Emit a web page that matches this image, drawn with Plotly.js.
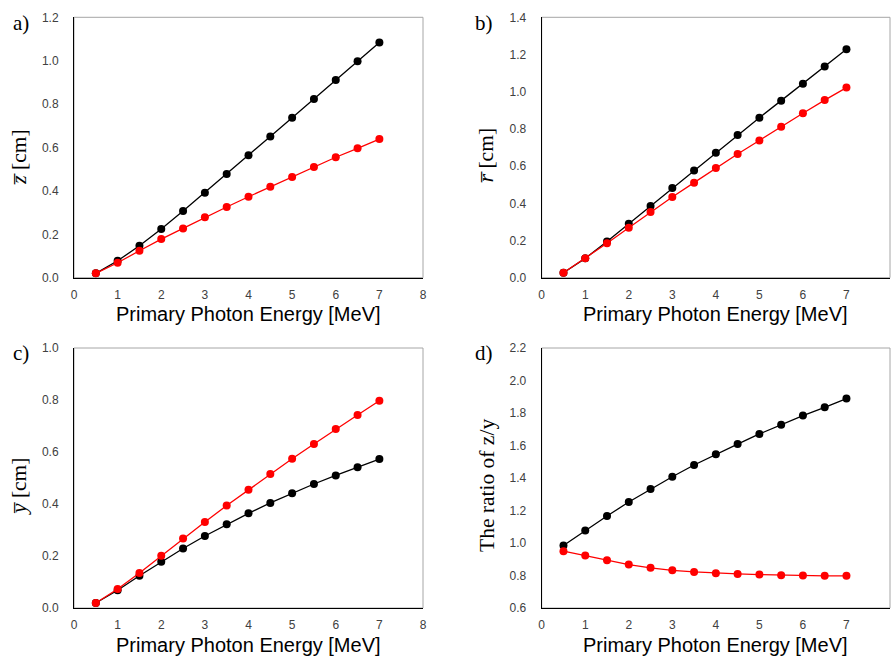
<!DOCTYPE html>
<html>
<head>
<meta charset="utf-8">
<script src="https://cdn.plot.ly/plotly-3.0.1.min.js"></script>
<style>html,body{margin:0;padding:0;background:#fff}#chart{width:893px;height:658px}</style>
</head>
<body>
<div id="chart"></div>
<script>
const energy = [0.5,1,1.5,2,2.5,3,3.5,4,4.5,5,5.5,6,6.5,7];

const zBlack = [0.02,0.078,0.147,0.224,0.307,0.392,0.478,0.564,0.651,0.737,0.823,0.911,0.997,1.084];
const zRed   = [0.02,0.069,0.124,0.178,0.227,0.278,0.326,0.373,0.419,0.464,0.510,0.555,0.596,0.639];

const rBlack = [0.027,0.104,0.195,0.290,0.385,0.482,0.577,0.672,0.767,0.860,0.952,1.043,1.135,1.228];
const rRed   = [0.027,0.104,0.185,0.269,0.353,0.434,0.511,0.590,0.665,0.738,0.812,0.884,0.955,1.022];

const yBlack = [0.019,0.068,0.124,0.178,0.229,0.277,0.322,0.364,0.404,0.441,0.477,0.510,0.541,0.573];
const yRed   = [0.019,0.073,0.135,0.201,0.267,0.331,0.394,0.455,0.515,0.574,0.631,0.688,0.742,0.797];

const ratioBlack = [0.985,1.077,1.166,1.252,1.332,1.408,1.480,1.546,1.609,1.671,1.728,1.784,1.835,1.889];
const ratioRed   = [0.950,0.923,0.894,0.867,0.847,0.832,0.822,0.814,0.810,0.806,0.802,0.800,0.798,0.798];

const xTicks = [0,1,2,3,4,5,6,7,8];
const panelLabels = ['a)','b)','c)','d)'];
const yTitles = ['<i>z\u0305</i> [cm]','<i>r\u0305</i> [cm]','<i>y\u0305</i> [cm]','The ratio of z/y'];
const xTitle = 'Primary Photon Energy [MeV]';

function tr(x, y, color, xa, ya){
  return {x:x, y:y, type:'scatter', mode:'lines+markers', xaxis:xa, yaxis:ya,
    line:{color:color, width:1.3}, marker:{color:color, size:8}, showlegend:false, hoverinfo:'skip'};
}
const data = [
  tr(energy, zBlack, '#000000','x','y'),
  tr(energy, zRed, '#ff0000','x','y'),
  tr(energy, rBlack, '#000000','x2','y2'),
  tr(energy, rRed, '#ff0000','x2','y2'),
  tr(energy, yBlack, '#000000','x3','y3'),
  tr(energy, yRed, '#ff0000','x3','y3'),
  tr(energy, ratioBlack, '#000000','x4','y4'),
  tr(energy, ratioRed, '#ff0000','x4','y4')
];

const W=893, H=658;
const colL=[74/W, 423/W], colR=[541.7/W, 890/W];
const rowT=[1-277.7/H, 1-17.3/H], rowB=[1-608/H, 1-348/H];
const tickFont={family:'Liberation Sans, Arial, sans-serif', size:12, color:'#404040'};

function xax(dom, anchor){
  return {domain:dom, anchor:anchor, range:[0,8], tickvals:xTicks, showgrid:false, zeroline:false,
    showline:true, linecolor:'#000', linewidth:1, ticks:'outside', ticklen:6, tickcolor:'rgba(0,0,0,0)',
    tickfont:tickFont, fixedrange:true};
}
function yax(dom, anchor, range, dtick){
  return {domain:dom, anchor:anchor, range:range, dtick:dtick, tick0:range[0], tickformat:'.1f', showgrid:false, zeroline:false,
    showline:true, linecolor:'#000', linewidth:1, ticks:'outside', ticklen:12, tickcolor:'rgba(0,0,0,0)',
    tickfont:tickFont, fixedrange:true};
}

const layout = {
  width:W, height:H, margin:{l:0,r:0,t:0,b:0}, paper_bgcolor:'#fff', plot_bgcolor:'#fff',
  xaxis: xax(colL,'y'), yaxis: yax(rowT,'x',[0,1.2],0.2),
  xaxis2: xax(colR,'y2'), yaxis2: yax(rowT,'x2',[0,1.4],0.2),
  xaxis3: xax(colL,'y3'), yaxis3: yax(rowB,'x3',[0,1.0],0.2),
  xaxis4: xax(colR,'y4'), yaxis4: yax(rowB,'x4',[0.6,2.2],0.2),
  shapes: [], annotations: []
};

const cols=[colL,colR,colL,colR], rows=[rowT,rowT,rowB,rowB];
const labelPos=[[21,23],[484,23],[21,353],[484,353]];
const yTitlePos=[[19,157],[486,155],[19,486],[487,486]];
const xTitleY=[314,314,645,645];
for(let i=0;i<4;i++){
  const c=cols[i], r=rows[i];
  layout.shapes.push({type:'rect', xref:'paper', yref:'paper', x0:c[0], x1:c[1], y0:r[0], y1:r[1],
    line:{color:'#a6a6a6', width:1}, layer:'below'});
  layout.annotations.push({text:panelLabels[i], xref:'paper', yref:'paper', x:labelPos[i][0]/W, y:1-labelPos[i][1]/H,
    xanchor:'center', yanchor:'middle', showarrow:false, font:{family:'Liberation Serif, Times New Roman, serif', size:21, color:'#000'}});
  layout.annotations.push({text:yTitles[i], xref:'paper', yref:'paper', x:yTitlePos[i][0]/W, y:1-yTitlePos[i][1]/H,
    xanchor:'center', yanchor:'middle', textangle:-90, showarrow:false, font:{family:'Liberation Serif, Times New Roman, serif', size:21.5, color:'#000'}});
  layout.annotations.push({text:xTitle, xref:'paper', yref:'paper', x:(c[0]+c[1])/2, y:1-xTitleY[i]/H,
    xanchor:'center', yanchor:'middle', showarrow:false, font:{family:'Liberation Sans, Arial, sans-serif', size:20, color:'#000'}});
}

Plotly.newPlot('chart', data, layout, {displayModeBar:false, staticPlot:true});
</script>
</body>
</html>
